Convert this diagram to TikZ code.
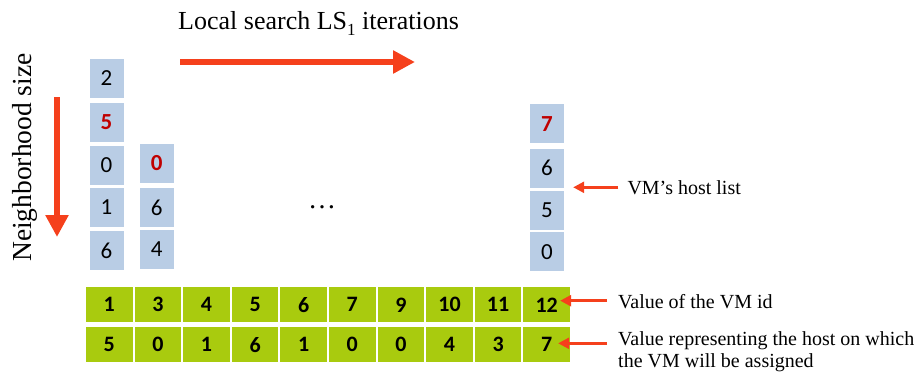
\documentclass[tikz,border=0pt]{standalone}
\usepackage{fontspec}
\setmainfont{Liberation Serif}
\newfontfamily\digitfont{Carlito}
\usetikzlibrary{arrows.meta}
\definecolor{hostblue}{HTML}{B9CDE5}
\definecolor{vmgreen}{HTML}{A9CB0E}
\definecolor{pickred}{HTML}{C00000}
\definecolor{arrowred}{HTML}{F5401C}
\begin{document}
\begin{tikzpicture}[x=1pt, y=-1pt,
		hostbox/.style={shape=rectangle, fill=hostblue, minimum width=34pt, minimum height=39pt, inner sep=0pt, font=\digitfont\fontsize{23}{26}\selectfont},
		picked/.style={text=pickred, font=\digitfont\bfseries\fontsize{23}{26}\selectfont},
		cell/.style={shape=rectangle, fill=vmgreen, minimum width=46.5pt, minimum height=35pt, inner sep=0pt, font=\digitfont\bfseries\fontsize{22}{26}\selectfont},
		note/.style={anchor=base west, inner sep=0pt, font=\fontsize{20}{21.6}\selectfont},
		bigarrow/.style={draw=arrowred, line width=6.5pt, -{Triangle[length=22pt, width=22pt]}},
		pointer/.style={draw=arrowred, line width=2.5pt, -{Triangle[length=11pt, width=11pt]}}]
		\useasboundingbox (0,0) rectangle (923,373);
		% headings and the two search directions
		\node (title) at (178,29.3) [anchor=base west, inner sep=0pt, font=\fontsize{26}{28}\selectfont] {Local search LS\raisebox{-0.25em}{\fontsize{17}{17}\selectfont 1} iterations};
		\node (nsize) at (31.7,262) [anchor=base west, inner sep=0pt, rotate=90, font=\fontsize{27.5}{28}\selectfont] {Neighborhood size};
		\coordinate (itstart) at (180,62);
		\coordinate (itend) at (415,62);
		\coordinate (nstart) at (57,97);
		\coordinate (nend) at (57,237);
		\draw[bigarrow] (itstart) -- (itend);
		\draw[bigarrow] (nstart) -- (nend);
		% host lists of the VMs
		\node (a1) at (106.5,78.5) [hostbox] {2};
		\node (a2) at (106.5,122.5) [hostbox, picked] {5};
		\node (a3) at (106.5,165) [hostbox] {0};
		\node (a4) at (106.5,207.5) [hostbox] {1};
		\node (a5) at (106.5,250.7) [hostbox] {6};
		\node (b1) at (156.7,163.3) [hostbox, picked] {0};
		\node (b2) at (156.7,207.5) [hostbox] {6};
		\node (b3) at (156.7,249.5) [hostbox] {4};
		\node (dots) at (322,207) [font=\fontsize{28}{28}\selectfont] {\ldots};
		\node (r1) at (547,123.7) [hostbox, picked] {7};
		\node (r2) at (547,168.3) [hostbox] {6};
		\node (r3) at (547,210.3) [hostbox] {5};
		\node (r4) at (547,251.7) [hostbox] {0};
		% VM ids
		\node (id1) at (109.3,304.8) [cell] {1};
		\node (id2) at (157.9,304.8) [cell] {3};
		\node (id3) at (206.5,304.8) [cell] {4};
		\node (id4) at (255.1,304.8) [cell] {5};
		\node (id5) at (303.7,304.8) [cell] {6};
		\node (id6) at (352.3,304.8) [cell] {7};
		\node (id7) at (400.9,304.8) [cell] {9};
		\node (id8) at (449.5,304.8) [cell] {10};
		\node (id9) at (498.1,304.8) [cell] {11};
		\node (id10) at (546.7,304.8) [cell] {12};
		% assigned hosts
		\node (hs1) at (109.3,344.7) [cell] {5};
		\node (hs2) at (157.9,344.7) [cell] {0};
		\node (hs3) at (206.5,344.7) [cell] {1};
		\node (hs4) at (255.1,344.7) [cell] {6};
		\node (hs5) at (303.7,344.7) [cell] {1};
		\node (hs6) at (352.3,344.7) [cell] {0};
		\node (hs7) at (400.9,344.7) [cell] {0};
		\node (hs8) at (449.5,344.7) [cell] {4};
		\node (hs9) at (498.1,344.7) [cell] {3};
		\node (hs10) at (546.7,344.7) [cell] {7};
		% explanations
		\node (hostlbl) at (627.3,194.3) [note] {VM’s host list};
		\node (idlbl) at (618,308.3) [note] {Value of the VM id};
		\node (hslbl) at (618,367.3) [note, align=left] {Value representing the host on which\\the VM will be assigned};
		\draw[pointer] ([xshift=-9pt]hostlbl.west |- 0,187.3) -- ([xshift=9pt]r2.east |- 0,187.3);
		\draw[pointer] ([xshift=-11pt]idlbl.west |- 0,300.7) -- ([xshift=-10pt]id10.east |- 0,300.7);
		\draw[pointer] ([xshift=-11pt]hslbl.west |- 0,343.3) -- ([xshift=-12pt]hs10.east |- 0,343.3);
\end{tikzpicture}
\end{document}
